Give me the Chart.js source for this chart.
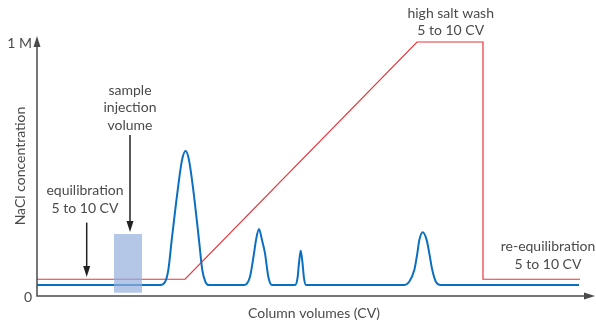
<!DOCTYPE html>
<html>
<head>
<meta charset="utf-8">
<script src="https://cdn.jsdelivr.net/npm/chart.js@4/dist/chart.umd.min.js"></script>
<style>
  html, body { margin: 0; padding: 0; background: #fff; }
  #wrap { width: 596px; height: 324px; }
</style>
</head>
<body>
<div id="wrap"><canvas id="gradChart" width="596" height="324"></canvas></div>
<script>
// NaCl gradient (M) against column volumes
const saltCV = [0, 14.8, 38.0, 44.6, 44.6, 54.3];
const saltM = [0.066, 0.066, 1, 1, 0.066, 0.066];

// UV trace (same y units)
const uvCV = [0, 12.3, 12.8, 13.13, 13.47, 14.07, 14.5, 14.87, 15.2, 15.63, 16.2, 16.53, 16.85, 17.2,
              20.7, 21.3, 21.7, 21.9, 22.2, 22.5, 22.8, 23.13, 23.5,
              25.8, 26.05, 26.2, 26.37, 26.55, 26.7, 26.9,
              36.7, 37.2, 37.73, 38.03, 38.23, 38.57, 38.97, 39.23, 39.53, 39.9, 40.4,
              54.2];
const uvAbs = [0.043, 0.043, 0.055, 0.102, 0.22, 0.417, 0.535, 0.571, 0.535, 0.417, 0.22, 0.102, 0.055, 0.043,
               0.043, 0.076, 0.168, 0.22, 0.264, 0.22, 0.168, 0.076, 0.043,
               0.043, 0.07, 0.13, 0.178, 0.13, 0.07, 0.043,
               0.043, 0.055, 0.102, 0.168, 0.22, 0.251, 0.22, 0.168, 0.102, 0.055, 0.043,
               0.043];

// sample injection block
const injectionCV = [7.7, 10.5];
const injectionRange = [0.013, 0.244];

const yTicks = [0, 1];
const yTickLabels = ['0', '1 M'];
const xTitle = 'Column volumes (CV)';
const yTitle = 'NaCl concentration';

const toPoints = (xs, ys) => xs.map((x, i) => ({ x: x, y: ys[i] }));

const FONT = '14px Lato';
const TEXT = '#4a4a4a';
const AXIS = '#4a4a4a';

function arrowHead(ctx, x, y, dir) {
    // dir: 'up', 'down', 'right'
    ctx.beginPath();
    if (dir === 'up') {
        ctx.moveTo(x, y); ctx.lineTo(x - 3.5, y + 11); ctx.lineTo(x + 3.5, y + 11);
    } else if (dir === 'down') {
        ctx.moveTo(x, y); ctx.lineTo(x - 3.5, y - 11); ctx.lineTo(x + 3.5, y - 11);
    } else {
        ctx.moveTo(x, y); ctx.lineTo(x - 11, y - 3.5); ctx.lineTo(x - 11, y + 3.5);
    }
    ctx.closePath();
    ctx.fill();
}

const decor = {
    id: 'decor',
    afterDraw(chart) {
        const ctx = chart.ctx;
        const xs = chart.scales.x, ys = chart.scales.y;
        const area = chart.chartArea;
        ctx.save();

        // axes with arrows
        ctx.strokeStyle = AXIS;
        ctx.fillStyle = AXIS;
        ctx.lineWidth = 1.5;
        ctx.beginPath();
        ctx.moveTo(area.left, area.top + 4);
        ctx.lineTo(area.left, area.bottom);
        ctx.lineTo(area.right - 4, area.bottom);
        ctx.stroke();
        arrowHead(ctx, area.left, area.top, 'up');
        arrowHead(ctx, area.right, area.bottom, 'right');

        // tick labels
        ctx.font = FONT;
        ctx.fillStyle = TEXT;
        ctx.textAlign = 'right';
        ctx.textBaseline = 'middle';
        yTicks.forEach((v, i) => {
            ctx.fillText(yTickLabels[i], area.left - 5, ys.getPixelForValue(v) + 1);
        });

        // axis titles
        ctx.textAlign = 'center';
        ctx.fillText(xTitle, 314, 313);
        ctx.save();
        ctx.translate(20, 166);
        ctx.rotate(-Math.PI / 2);
        ctx.fillText(yTitle, 0, 0);
        ctx.restore();

        // annotation text
        const notes = [
            { x: 9.3, y: 0.811, lines: ['sample', 'injection', 'volume'] },
            { x: 4.8, y: 0.415, lines: ['equilibration', '5 to 10 CV'] },
            { x: 41.37, y: 1.114, lines: ['high salt wash', '5 to 10 CV'] },
            { x: 51.1, y: 0.193, lines: ['re-equilibration', '5 to 10 CV'] }
        ];
        notes.forEach(n => {
            const px = xs.getPixelForValue(n.x);
            const py = ys.getPixelForValue(n.y);
            n.lines.forEach((t, i) => ctx.fillText(t, px, py + i * 17.5));
        });

        // pointer arrows
        const pointers = [
            { x: 9.3, from: 0.634, to: 0.252 },
            { x: 4.97, from: 0.289, to: 0.075 }
        ];
        ctx.strokeStyle = '#222';
        ctx.fillStyle = '#222';
        ctx.lineWidth = 1.5;
        pointers.forEach(p => {
            const px = xs.getPixelForValue(p.x);
            const y0 = ys.getPixelForValue(p.from);
            const y1 = ys.getPixelForValue(p.to);
            ctx.beginPath();
            ctx.moveTo(px, y0);
            ctx.lineTo(px, y1 - 6);
            ctx.stroke();
            arrowHead(ctx, px, y1, 'down');
        });
        ctx.restore();
    }
};

new Chart(document.getElementById('gradChart'), {
    type: 'line',
    data: {
        datasets: [
            {
                label: 'injection',
                data: toPoints(injectionCV, [injectionRange[1], injectionRange[1]]),
                borderWidth: 0,
                pointRadius: 0,
                backgroundColor: 'rgba(148, 175, 221, 0.7)',
                fill: { value: injectionRange[0] }
            },
            {
                label: 'UV',
                data: toPoints(uvCV, uvAbs),
                borderColor: '#0a6fbf',
                borderWidth: 2,
                pointRadius: 0,
                fill: false,
                cubicInterpolationMode: 'monotone'
            },
            {
                label: 'NaCl',
                data: toPoints(saltCV, saltM),
                borderColor: '#e8343a',
                borderWidth: 1.2,
                pointRadius: 0,
                fill: false,
                tension: 0
            }
        ]
    },
    options: {
        responsive: false,
        animation: false,
        layout: { padding: { left: 37, right: 1, top: 36, bottom: 28 } },
        plugins: {
            legend: { display: false },
            tooltip: { enabled: false }
        },
        scales: {
            x: { type: 'linear', min: 0, max: 55.8, display: false },
            y: { type: 'linear', min: 0, max: 1.0236, display: false }
        }
    },
    plugins: [decor]
});
</script>
</body>
</html>
